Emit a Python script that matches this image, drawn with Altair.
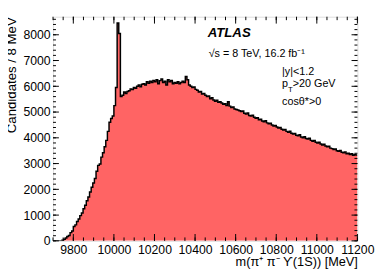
import altair as alt
import pandas as pd

# ---- data ----
bin_start = 9696   # MeV, lower edge of first bin
bin_width = 8      # MeV
counts = [
    0, 0, 0, 0, 0, 0, 20, 60, 110, 170,
    210, 320, 380, 560, 620, 750, 850, 980, 1080, 1250,
    1380, 1560, 1700, 1900, 2080, 2250, 2420, 2700, 2930, 2980,
    3250, 3420, 3650, 3900, 4250, 4600, 4750, 4850, 5250, 5950,
    8460, 8050, 5600, 5650, 5780, 5720, 5800, 5830, 5900, 5870,
    5950, 5920, 6000, 6050, 5980, 6080, 6100, 6050, 6180, 6120,
    6200, 6150, 6230, 6180, 6250, 6100, 6220, 6280, 6150, 6200,
    6050, 6250, 6180, 6230, 6100, 6150, 6120, 6180, 6100, 6150,
    6200, 6150, 6380, 6250, 6050, 6000, 5950, 5970, 5880, 5850,
    5780, 5800, 5700, 5720, 5650, 5600, 5620, 5520, 5560, 5470,
    5420, 5460, 5380, 5400, 5350, 5300, 5320, 5250, 5400, 5230,
    5180, 5200, 5120, 5100, 5080, 5050, 5020, 5040, 4950, 4920,
    4960, 4870, 4850, 4880, 4800, 4760, 4780, 4700, 4720, 4650,
    4620, 4660, 4580, 4550, 4570, 4500, 4460, 4480, 4420, 4380,
    4400, 4330, 4300, 4320, 4250, 4220, 4260, 4180, 4150, 4170,
    4100, 4080, 4120, 4030, 4000, 4040, 3970, 3950, 3980, 3900,
    3870, 3900, 3830, 3800, 3830, 3760, 3720, 3750, 3680, 3650,
    3670, 3600, 3580, 3550, 3570, 3500, 3480, 3510, 3440, 3420,
    3450, 3380, 3400, 3350, 3380, 3320, 3350, 3330,
]
x_major = [9800, 10000, 10200, 10400, 10600, 10800, 11000, 11200]
x_minor = list(range(9700, 11201, 50))
y_major = [0, 1000, 2000, 3000, 4000, 5000, 6000, 7000, 8000]
y_minor = list(range(0, 8701, 200))
x_domain = [9700, 11200]
y_domain = [0, 8700]

# annotation texts
note_text = ["ATLAS", "√s = 8 TeV, 16.2 fb⁻¹", "|y|<1.2", "p", "T", ">20 GeV", "cosθ*>0"]

W, H = 311, 229
FONT = "Liberation Sans"
FILL = "#ff6464"

edges = [bin_start + bin_width * i for i in range(len(counts) + 1)]
hist = pd.DataFrame({"m": edges, "n": counts + [counts[-1]]})

xs = alt.Scale(domain=x_domain, nice=False, zero=False)
ys = alt.Scale(domain=y_domain, nice=False)

x_axis = alt.Axis(values=x_major, format="d", ticks=False, domain=False, grid=False,
                  labelFont=FONT, labelFontSize=12.5, labelColor="black", labelPadding=3,
                  labelFlush=False, labelOverlap=False,
                  title="m(π⁺ π⁻ ϒ(1S)) [MeV]", titleFont=FONT, titleFontSize=13,
                  titleFontWeight="normal", titleColor="black",
                  titleX=W, titleY=25, titleAlign="right", titleBaseline="alphabetic",
                  titleAnchor="end")
y_axis = alt.Axis(values=y_major, format="d", ticks=False, domain=False, grid=False,
                  labelFont=FONT, labelFontSize=12.5, labelColor="black", labelPadding=3,
                  labelFlush=False, labelOverlap=False,
                  title="Candidates / 8 MeV", titleFont=FONT, titleFontSize=13.5,
                  titleFontWeight="normal", titleColor="black",
                  titleX=-38, titleY=0, titleAngle=270, titleAlign="right",
                  titleBaseline="alphabetic", titleAnchor="end")

X = alt.X("m:Q", scale=xs, axis=x_axis)
Y = alt.Y("n:Q", scale=ys, axis=y_axis)

area = alt.Chart(hist).mark_area(interpolate="step-after", color=FILL, opacity=1, clip=True).encode(x=X, y=Y)
line = alt.Chart(hist).mark_line(interpolate="step-after", color="black", strokeWidth=1.5, clip=True).encode(x=X, y=Y)

def xticks(vals, length):
    df = pd.DataFrame({"m": vals})
    b = alt.Chart(df).mark_rule(color="black", strokeWidth=1).encode(
        x=X, y=alt.value(H), y2=alt.value(H - length))
    t = alt.Chart(df).mark_rule(color="black", strokeWidth=1).encode(
        x=X, y=alt.value(0), y2=alt.value(length))
    return [b, t]

def yticks(vals, length):
    df = pd.DataFrame({"n": vals})
    l = alt.Chart(df).mark_rule(color="black", strokeWidth=1).encode(
        y=Y, x=alt.value(0), x2=alt.value(length))
    r = alt.Chart(df).mark_rule(color="black", strokeWidth=1).encode(
        y=Y, x=alt.value(W), x2=alt.value(W - length))
    return [l, r]

notes = pd.DataFrame({
    "t": note_text,
    "px": [158, 159, 234, 234, 240, 245, 234],
    "py": [21, 41, 60, 72, 77, 72, 90],
    "fs": [13.5, 11, 11, 11, 8, 11, 11],
    "bold": [True, False, False, False, False, False, False],
})

def textlayer(bold, weight, style):
    return alt.Chart(notes).transform_filter(
        alt.datum.bold == bold
    ).mark_text(
        align="left", baseline="alphabetic", font=FONT,
        fontWeight=weight, fontStyle=style, color="black").encode(
        text="t:N",
        size=alt.Size("fs:Q", scale=None, legend=None),
        x=alt.X("px:Q", scale=None, axis=None),
        y=alt.Y("py:Q", scale=None, axis=None))

layers = [area, line]
layers += xticks(x_minor, 3.5) + xticks(x_major, 7)
layers += yticks(y_minor, 3) + yticks(y_major, 6)
layers += [textlayer(False, "normal", "normal"), textlayer(True, "bold", "italic")]

chart = alt.layer(*layers).resolve_scale(x="shared", y="shared").properties(
    width=W, height=H,
    autosize=alt.AutoSizeParams(type="none"),
    padding={"left": 46, "top": 6, "right": 19, "bottom": 34},
).configure_view(stroke="black", strokeWidth=1).configure(background="white")

chart.save("out.html", embed_options={"renderer": "svg", "actions": False})
